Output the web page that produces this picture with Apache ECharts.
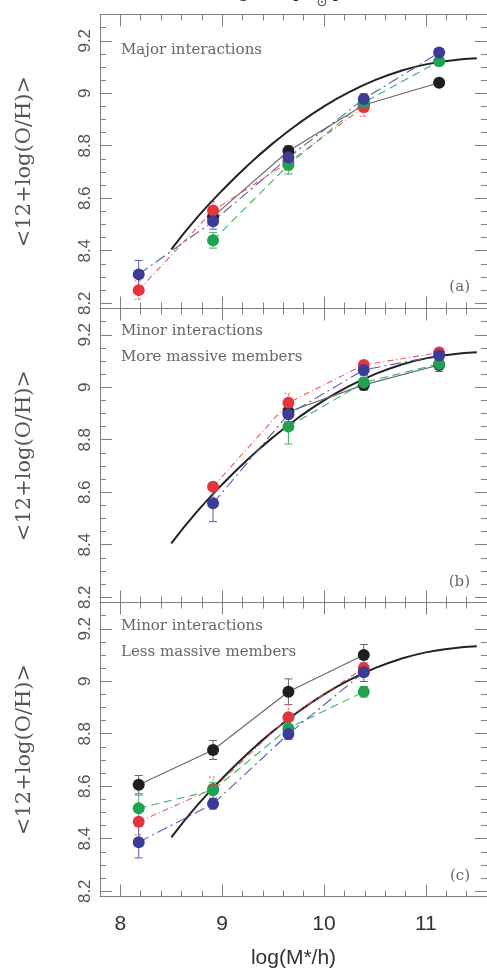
<!DOCTYPE html>
<html><head><meta charset="utf-8">
<script src="https://cdn.jsdelivr.net/npm/echarts@6/dist/echarts.min.js"></script>
<style>html,body{margin:0;padding:0;background:#fff}#c{width:487px;height:973px}</style>
</head><body><div id="c"></div>
<script>
// ---- tick values ----
const xMajorTicks = [8, 9, 10, 11];
const xMinorTicks = [7.8, 8.0, 8.2, 8.4, 8.6, 8.8, 9.0, 9.2, 9.4, 9.6, 9.8, 10.0, 10.2, 10.4, 10.6, 10.8, 11.0, 11.2, 11.4, 11.6];
const yMajorTicks = [8.2, 8.4, 8.6, 8.8, 9.0, 9.2];
const yMinorTicks = [8.2, 8.25, 8.3, 8.35, 8.4, 8.45, 8.5, 8.55, 8.6, 8.65, 8.7, 8.75, 8.8, 8.85, 8.9, 8.95, 9.0, 9.05, 9.1, 9.15, 9.2, 9.25, 9.3];

// ---- mass bins (x of points) ----
const massBins = [8.18, 8.91, 9.65, 10.39, 11.13];

// ---- reference relation (thick curve) ----
const modelX = [8.5, 8.75, 9.0, 9.25, 9.5, 9.75, 10.0, 10.25, 10.5, 10.75, 11.0, 11.25, 11.5];
const modelY = [8.405, 8.525, 8.630, 8.725, 8.810, 8.885, 8.950, 9.005, 9.050, 9.085, 9.110, 9.125, 9.133];

// ---- panel (a) Major interactions ----
const majBlack = [null, 8.53, 8.78, 8.955, 9.04];
const majBlackErr = [null, 0.02, 0.02, 0.02, 0.01];
const majRed = [8.25, 8.553, 8.737, 8.947, null];
const majRedErr = [0.035, 0.035, 0.03, 0.035, null];
const majGreen = [null, 8.44, 8.727, 8.965, 9.122];
const majGreenErr = [null, 0.03, 0.035, 0.02, 0.015];
const majBlue = [8.31, 8.512, 8.755, 8.978, 9.155];
const majBlueErr = [0.053, 0.03, 0.025, 0.02, 0.015];

// ---- panel (b) Minor interactions, more massive members ----
const moreBlack = [null, null, 8.907, 9.009, 9.085];
const moreBlackErr = [null, null, 0.04, 0.02, 0.025];
const moreRed = [null, 8.621, 8.941, 9.085, 9.132];
const moreRedErr = [null, 0.01, 0.036, 0.015, 0.015];
const moreGreen = [null, null, 8.85, 9.018, 9.089];
const moreGreenErr = [null, null, 0.066, 0.02, 0.02];
const moreBlue = [null, 8.558, 8.897, 9.066, 9.121];
const moreBlueErr = [null, 0.07, 0.03, 0.02, 0.02];

// ---- panel (c) Minor interactions, less massive members ----
const lessBlack = [8.606, 8.738, 8.96, 9.10, null];
const lessBlackErr = [0.035, 0.036, 0.049, 0.04, null];
const lessRed = [8.465, 8.59, 8.863, 9.05, null];
const lessRedErr = [0.05, 0.045, 0.048, 0.02, null];
const lessGreen = [8.516, 8.585, 8.821, 8.96, null];
const lessGreenErr = [0.05, 0.03, 0.03, 0.02, null];
const lessBlue = [8.387, 8.533, 8.799, 9.034, null];
const lessBlueErr = [0.06, 0.02, 0.02, 0.035, null];

// ---- styling ----
const C = {black:'#1e1e1e', red:'#e5353c', green:'#1fa352', blue:'#3a3c98'};
const LINE = {black:'#666666', red:'#ea5a60', green:'#3cb46a', blue:'#5a5db0'};
const DASH = {black:'solid', red:[6,3,1,3], green:[8,5], blue:[11,4,2,4]};
const axisCol = '#808080';
const grids = [
  {left:100, width:390, top:14.5, height:294},
  {left:100, width:390, top:308.5, height:294},
  {left:100, width:390, top:602.5, height:294}
];

const xAxes = [], yAxes = [];
grids.forEach((g, gi) => {
  const last = gi === 2;
  const base = {gridIndex: gi, type:'value', min:7.8, max:11.6, splitLine:{show:false}};
  xAxes.push(Object.assign({}, base, {
    position:'bottom',
    axisLine:{show:true, lineStyle:{color:axisCol, width:1}},
    axisTick:{show:true, inside:true, length:12, customValues:xMajorTicks, lineStyle:{color:axisCol}},
    axisLabel:{show:last, customValues:xMajorTicks, margin:17, fontSize:21, fontFamily:'Liberation Sans', color:'#333'},
    name: last ? 'log(M*/h)' : '', nameLocation:'middle', nameGap:51,
    nameTextStyle:{fontSize:21, fontFamily:'Liberation Sans', color:'#333'}
  }));
  xAxes.push(Object.assign({}, base, {
    position:'bottom', axisLine:{show:false},
    axisTick:{show:true, inside:true, length:6, customValues:xMinorTicks, lineStyle:{color:axisCol}},
    axisLabel:{show:false}
  }));
  xAxes.push(Object.assign({}, base, {
    position:'top', axisLine:{show:true, lineStyle:{color:axisCol, width:1}},
    axisTick:{show:true, inside:true, length:12, customValues:xMajorTicks, lineStyle:{color:axisCol}},
    axisLabel:{show:false}
  }));
  xAxes.push(Object.assign({}, base, {
    position:'top', axisLine:{show:false},
    axisTick:{show:true, inside:true, length:6, customValues:xMinorTicks, lineStyle:{color:axisCol}},
    axisLabel:{show:false}
  }));
  const ybase = {gridIndex: gi, type:'value', min:8.18, max:9.3, splitLine:{show:false}};
  yAxes.push(Object.assign({}, ybase, {
    position:'left',
    axisLine:{show:true, lineStyle:{color:axisCol, width:1}},
    axisTick:{show:true, inside:true, length:12, customValues:yMajorTicks, lineStyle:{color:axisCol}},
    axisLabel:{show:true, customValues:yMajorTicks, rotate:90, margin:6, fontSize:17, fontFamily:'Liberation Sans', color:'#555'},
    name:'<12+log(O/H)>', nameLocation:'middle', nameGap:65,
    nameTextStyle:{fontSize:21, fontFamily:'DejaVu Serif', color:'#555'}
  }));
  yAxes.push(Object.assign({}, ybase, {
    position:'left', axisLine:{show:false},
    axisTick:{show:true, inside:true, length:6, customValues:yMinorTicks, lineStyle:{color:axisCol}},
    axisLabel:{show:false}
  }));
  yAxes.push(Object.assign({}, ybase, {
    position:'right', axisLine:{show:true, lineStyle:{color:axisCol, width:1}},
    axisTick:{show:true, inside:true, length:12, customValues:yMajorTicks, lineStyle:{color:axisCol}},
    axisLabel:{show:false}
  }));
  yAxes.push(Object.assign({}, ybase, {
    position:'right', axisLine:{show:false},
    axisTick:{show:true, inside:true, length:6, customValues:yMinorTicks, lineStyle:{color:axisCol}},
    axisLabel:{show:false}
  }));
});

function pts(ys){ return massBins.map((x,i)=> ys[i]==null ? null : [x, ys[i]]).filter(p=>p); }
function errPts(ys, es){ return massBins.map((x,i)=> ys[i]==null ? null : [x, ys[i]-es[i], ys[i]+es[i]]).filter(p=>p); }

const series = [];
function addModel(gi){
  series.push({type:'line', xAxisIndex:gi*4, yAxisIndex:gi*4, smooth:0.5, showSymbol:false, silent:true,
    data: modelX.map((x,i)=>[x, modelY[i]]), lineStyle:{color:'#222', width:2}, z:2});
}
function addSet(gi, key, ys, es){
  const col = C[key];
  series.push({type:'custom', xAxisIndex:gi*4, yAxisIndex:gi*4, silent:true, z:3,
    data: errPts(ys, es), encode:{x:0, y:[1,2]},
    renderItem: function(params, api){
      const x = api.value(0), lo = api.value(1), hi = api.value(2);
      const a = api.coord([x, lo]), b = api.coord([x, hi]);
      const w = 4;
      const st = {stroke: LINE[key], lineWidth: 1, lineDash: key==='red' ? [2,2] : null, fill:null};
      return {type:'group', children:[
        {type:'line', shape:{x1:a[0], y1:a[1], x2:b[0], y2:b[1]}, style:st},
        {type:'line', shape:{x1:a[0]-w, y1:a[1], x2:a[0]+w, y2:a[1]}, style:st},
        {type:'line', shape:{x1:b[0]-w, y1:b[1], x2:b[0]+w, y2:b[1]}, style:st}
      ]};
    }});
  series.push({type:'line', xAxisIndex:gi*4, yAxisIndex:gi*4, silent:true, z:4,
    data: pts(ys), symbol:'circle', symbolSize:12, showSymbol:true,
    itemStyle:{color: col, borderWidth:0},
    lineStyle:{color: LINE[key], width:1.1, type: DASH[key]}});
}
addModel(0); addModel(1); addModel(2);
addSet(0,'black',majBlack,majBlackErr); addSet(0,'red',majRed,majRedErr); addSet(0,'green',majGreen,majGreenErr); addSet(0,'blue',majBlue,majBlueErr);
addSet(1,'black',moreBlack,moreBlackErr); addSet(1,'red',moreRed,moreRedErr); addSet(1,'green',moreGreen,moreGreenErr); addSet(1,'blue',moreBlue,moreBlueErr);
addSet(2,'black',lessBlack,lessBlackErr); addSet(2,'red',lessRed,lessRedErr); addSet(2,'green',lessGreen,lessGreenErr); addSet(2,'blue',lessBlue,lessBlueErr);

const labFont = {fontSize:15, fontFamily:'DejaVu Serif', fill:'#666'};
function txt(x, y, t, align){
  return {type:'text', x:x, y:y, z:10, silent:true,
    style:Object.assign({text:t, align:align||'left', verticalAlign:'middle'}, labFont)};
}
const graphics = [
  txt(121, 50, 'Major interactions'),
  txt(121, 331, 'Minor interactions'),
  txt(121, 357, 'More massive members'),
  txt(121, 626, 'Minor interactions'),
  txt(121, 652, 'Less massive members'),
  txt(470, 287, '(a)', 'right'),
  txt(470, 582, '(b)', 'right'),
  txt(470, 876, '(c)', 'right'),
  {type:'text', x:280, y:2, silent:true, style:{text:'log M*  [M   ]', align:'center', verticalAlign:'bottom', fontSize:21, fontFamily:'Liberation Sans', fill:'#333'}},
  {type:'text', x:322, y:9, silent:true, style:{text:'⊙', align:'center', verticalAlign:'bottom', fontSize:13, fontFamily:'DejaVu Sans', fill:'#333'}}
];

const chart = echarts.init(document.getElementById('c'), null, {renderer:'canvas'});
chart.setOption({
  animation:false,
  backgroundColor:'#fff',
  grid: grids,
  xAxis: xAxes,
  yAxis: yAxes,
  series: series,
  graphic: graphics
});
</script>
</body></html>
